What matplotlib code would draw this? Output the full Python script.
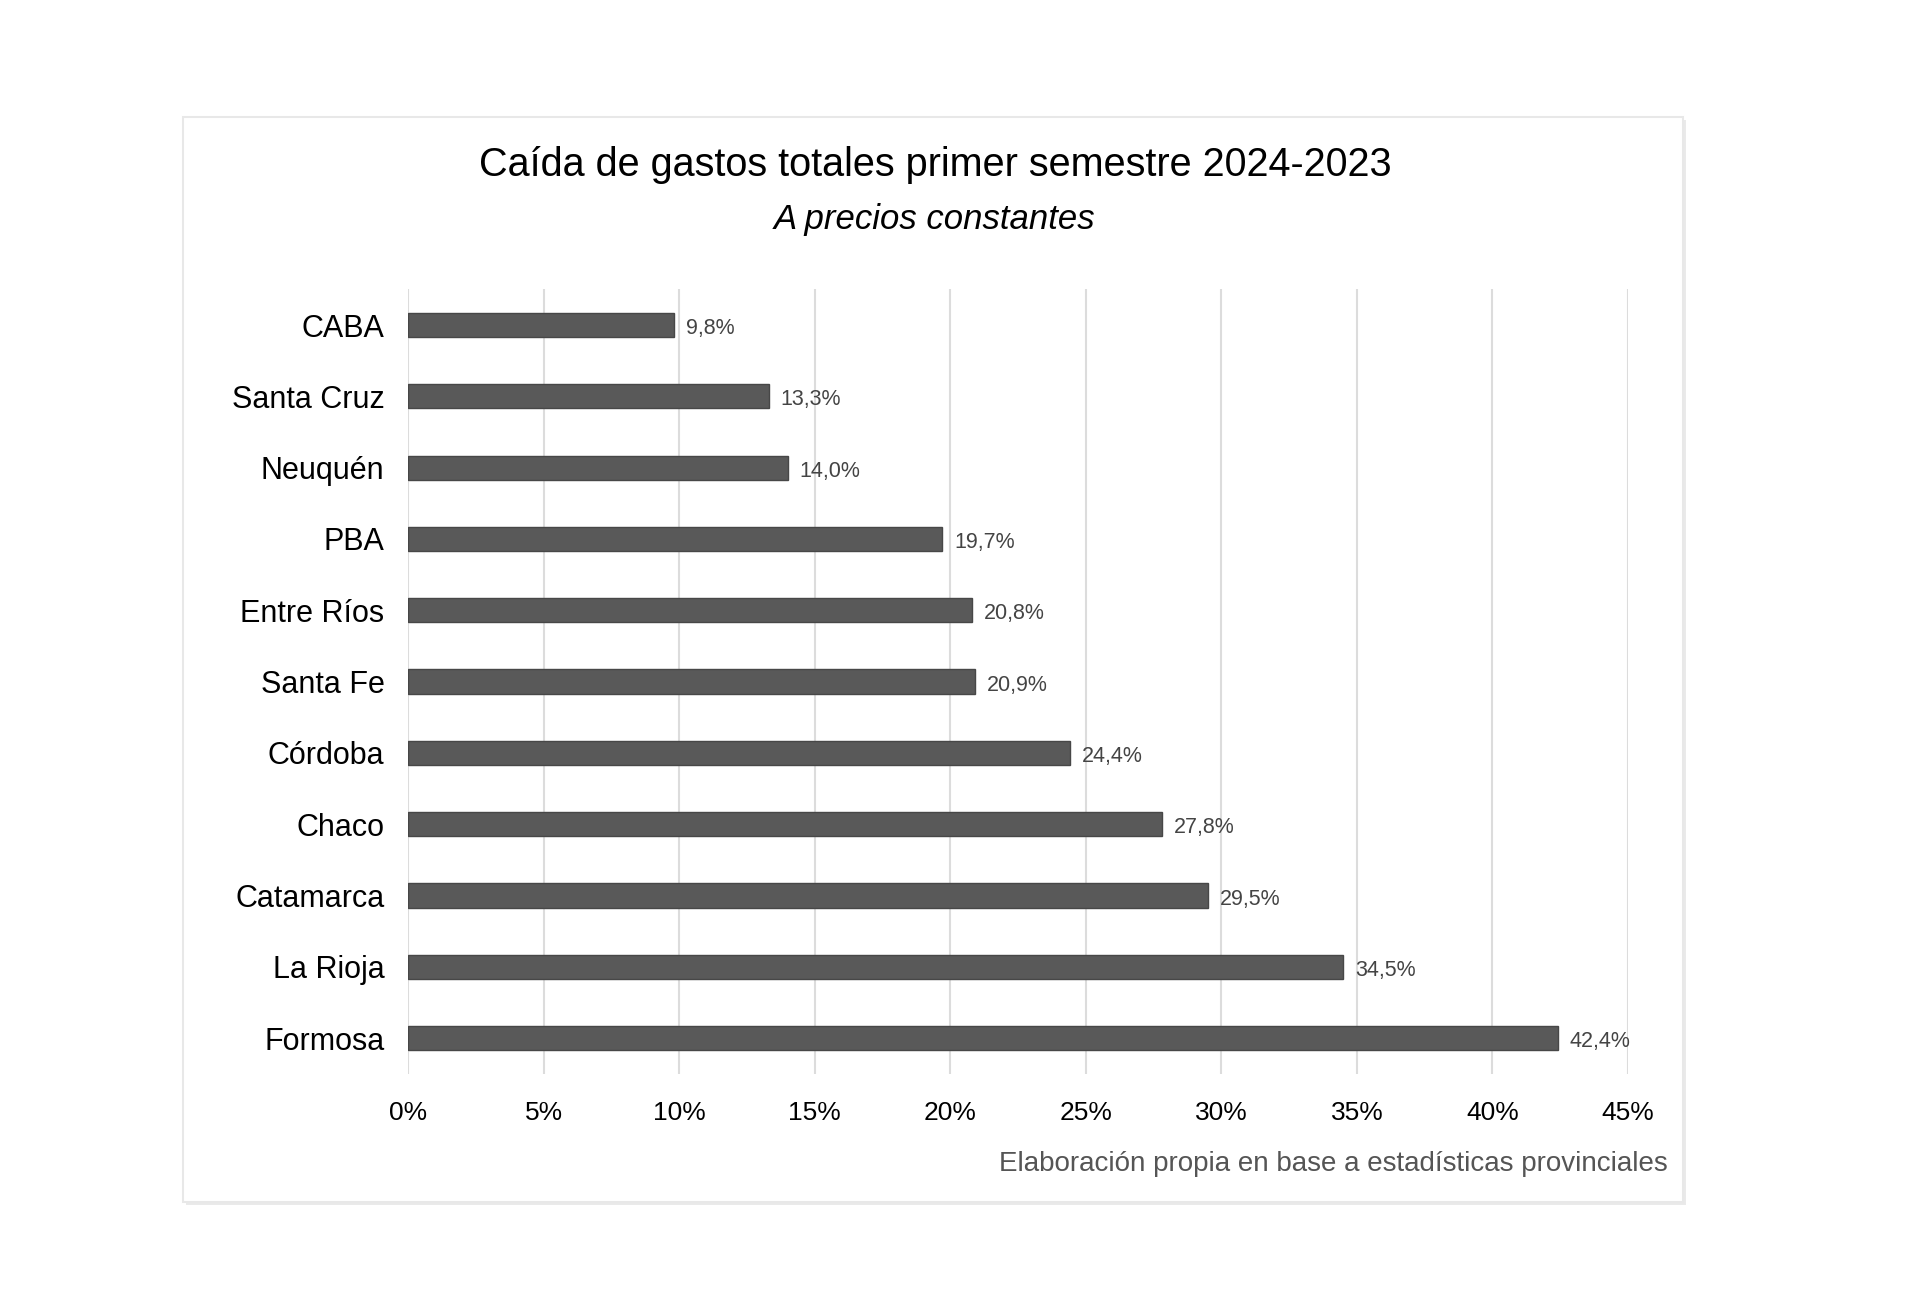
import numpy as np
import matplotlib.pyplot as plt
from matplotlib.patches import Rectangle

provincias = ['CABA', 'Santa Cruz', 'Neuquén', 'PBA', 'Entre Ríos', 'Santa Fe',
              'Córdoba', 'Chaco', 'Catamarca', 'La Rioja', 'Formosa']
caida = [9.8, 13.3, 14.0, 19.7, 20.8, 20.9, 24.4, 27.8, 29.5, 34.5, 42.4]
ticks = [0, 5, 10, 15, 20, 25, 30, 35, 40, 45]

plt.rcParams['font.family'] = ['Liberation Sans', 'DejaVu Sans']

W, H = 1920, 1296
fig = plt.figure(figsize=(19.2, 12.96), dpi=100)

# marco del grafico (con una sombra suave)
fig.patches.append(Rectangle((186/W, 1-1205/H), 1500/W, 1085/H,
                             transform=fig.transFigure, facecolor='#eaeaea',
                             edgecolor='none', zorder=-10))
fig.patches.append(Rectangle((183/W, 1-1202/H), 1500/W, 1085/H,
                             transform=fig.transFigure, facecolor='white',
                             edgecolor='#e8e8e8', linewidth=1.5, zorder=-9))

ax = fig.add_axes([408/W, 1-1073.7/H, 1220/W, 784.3/H])
ax.set_facecolor('none')
y = np.arange(len(provincias))
ax.barh(y, caida, height=0.34, color='#595959', edgecolor='#474747', linewidth=1, zorder=3)
for yi, v in zip(y, caida):
    ax.text(v + 0.45, yi + 0.05, '{:.1f}%'.format(v).replace('.', ','), va='center', ha='left',
            fontsize=15.5, color='#444444')

ax.set_ylim(10.5, -0.5)
ax.set_xlim(0, 45)
ax.set_yticks(y)
ax.set_yticklabels(provincias, fontsize=22, color='black')
ax.set_xticks(ticks)
ax.set_xticklabels(['{}%'.format(t) for t in ticks], fontsize=19, color='black')
ax.tick_params(axis='both', length=0)
ax.tick_params(axis='y', pad=17)
ax.tick_params(axis='x', pad=20)
ax.grid(axis='x', color='#dcdcdc', linewidth=1.5, zorder=0)
for s in ax.spines.values():
    s.set_visible(False)

fig.text(935/W, 1-165/H, 'Caída de gastos totales primer semestre 2024-2023',
         ha='center', va='center', fontsize=28.5, color='black')
fig.text(935/W, 1-219/H, 'A precios constantes', ha='center', va='center',
         fontsize=25, style='italic', color='black')
fig.text(1668/W, 1-1164/H, 'Elaboración propia en base a estadísticas provinciales',
         ha='right', va='center', fontsize=20, color='#555555')

fig.savefig('out.png', dpi=100, facecolor='white')
